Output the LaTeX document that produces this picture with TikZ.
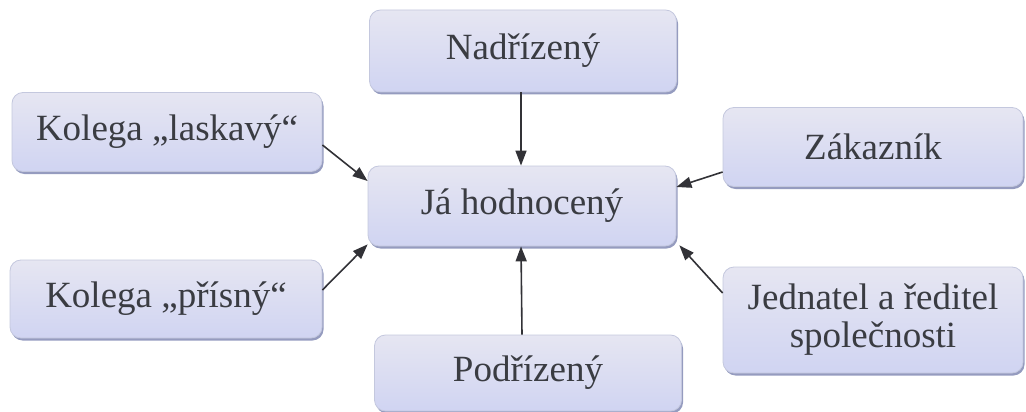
\documentclass[tikz,border=0pt]{standalone}
\usepackage{fontspec}
\newfontfamily\boxfont{LiberationSerif}[Extension=.ttf, UprightFont=*-Regular]
\usetikzlibrary{arrows.meta,shadows}
\definecolor{txtgray}{RGB}{58,60,66}
\definecolor{boxtop}{RGB}{230,230,242}
\definecolor{boxbot}{RGB}{208,212,242}
\definecolor{boxedge}{RGB}{196,200,222}
\definecolor{shadowc}{RGB}{130,138,180}
\definecolor{arrowc}{RGB}{50,50,55}
\begin{document}
\begin{tikzpicture}[x=1pt,y=-1pt,
  box/.style={rectangle, rounded corners=11pt, draw=boxedge, line width=0.8pt,
    top color=boxtop, middle color=white, bottom color=boxbot,
    drop shadow={shadow xshift=1.5pt, shadow yshift=-2.5pt, fill=shadowc, opacity=0.85},
    text=txtgray, font=\boxfont\fontsize{37}{42}\selectfont, align=center, inner sep=0pt},
  arr/.style={draw=arrowc, line width=1.6pt, -{Triangle[length=15pt,width=11pt]}}]
\useasboundingbox (0,0) rectangle (1026,412);
\node[box, minimum width=307pt, minimum height=82pt] (nad) at (523,51) {Nadřízený};
\node[box, minimum width=308pt, minimum height=80pt] (ja) at (522,206) {Já hodnocený};
\node[box, minimum width=310pt, minimum height=79pt] (las) at (167,132) {Kolega „laskavý“};
\node[box, minimum width=312pt, minimum height=78pt] (pri) at (166,299) {Kolega „přísný“};
\node[box, minimum width=300pt, minimum height=79pt] (zak) at (873,147) {Zákazník};
\node[box, minimum width=300pt, minimum height=106pt] (jed) at (873,320) {Jednatel a ředitel\\[-4pt]společnosti};
\node[box, minimum width=307pt, minimum height=76pt] (pod) at (528,373) {Podřízený};
\draw[arr] ([xshift=-2pt]nad.south) -- ([xshift=-1pt]ja.north);
\draw[arr] ([yshift=-13pt]las.east) -- ([yshift=25pt]ja.west);
\draw[arr] ([yshift=9pt]pri.east) -- ([yshift=2pt]ja.south west);
\draw[arr] ([yshift=-25pt]zak.west) -- ([yshift=19pt]ja.east);
\draw[arr] ([yshift=27pt]jed.west) -- ([xshift=3pt,yshift=1pt]ja.south east);
\draw[arr] (pod.north -| ja.south) -- ([xshift=-1pt]ja.south);
\end{tikzpicture}
\end{document}
